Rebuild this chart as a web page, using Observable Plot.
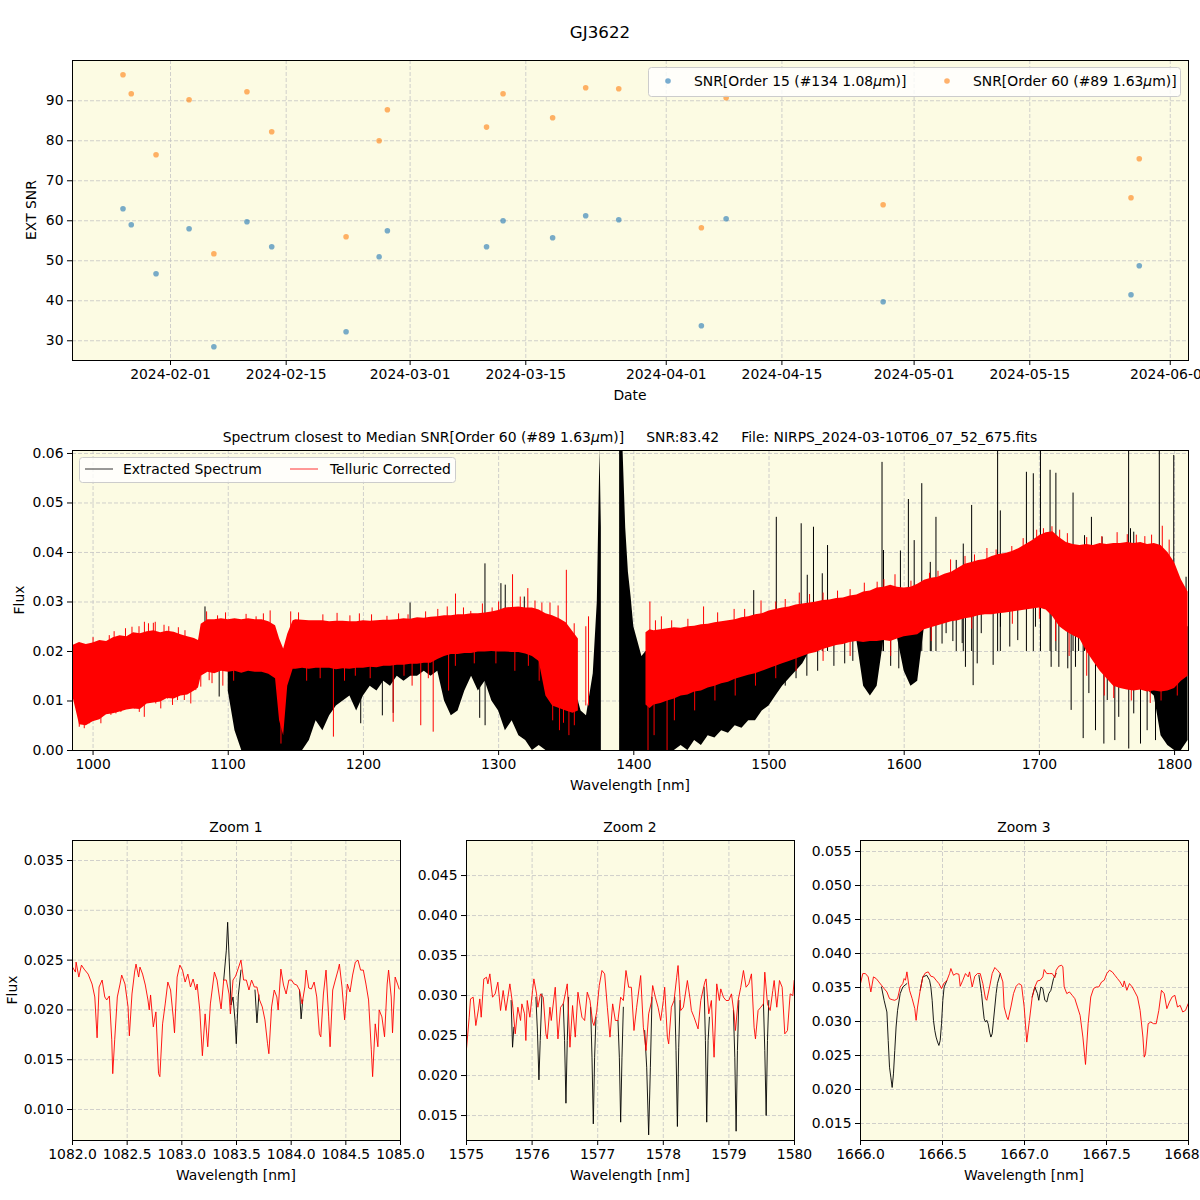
<!DOCTYPE html>
<html><head><meta charset="utf-8">
<script src="https://cdn.jsdelivr.net/npm/d3@7"></script>
<script src="https://cdn.jsdelivr.net/npm/@observablehq/plot@0.6"></script>
<style>
body{margin:0;background:#fff;}
#root{position:relative;width:1200px;height:1200px;overflow:hidden;background:#fff;}
</style></head><body><div id="root"></div>
<script>
// ---------------- DATA ----------------
const obsDates = ["2024-01-26","2024-01-27","2024-01-30","2024-02-03","2024-02-06","2024-02-10","2024-02-13","2024-02-22","2024-02-26","2024-02-27",
  "2024-03-10","2024-03-12","2024-03-18","2024-03-22","2024-03-26","2024-04-05","2024-04-08","2024-04-27","2024-05-27","2024-05-28"];
const snrOrder15 = [63,59,46.75,58,28.5,59.75,53.5,32.25,51,57.5,53.5,60,55.75,61.25,60.25,33.75,60.5,39.75,41.5,48.75];
const snrOrder60 = [96.5,91.75,76.5,90.25,51.75,92.25,82.25,56,80,87.75,83.42,91.75,85.75,93.25,93,58.25,90.75,64,65.75,75.5];
const dateTicks = ["2024-02-01","2024-02-15","2024-03-01","2024-03-15","2024-04-01","2024-04-15","2024-05-01","2024-05-15","2024-06-01"];
const snrTicks = [30,40,50,60,70,80,90];

// Middle panel: spectrum envelopes (flux)
const specWave = [985,990,995,1000,1005,1010,1015,1020,1025,1030,
 1035,1040,1045,1050,1055,1060,1065,1070,1075,1078,
 1080,1085,1090,1095,1100,1105,1110,1115,1120,1125,
 1130,1135,1138,1141,1144,1148,1150,1155,1160,1165,
 1170,1175,1180,1185,1190,1195,1200,1205,1210,1215,
 1220,1225,1230,1235,1240,1245,1250,1255,1260,1265,
 1270,1275,1280,1285,1290,1295,1300,1305,1310,1315,
 1320,1325,1330,1335,1340,1345,1350,1355,1359,1361,
 1365,1370,1373,1375,1376,1376.5,1389.5,1392,1394,1396,
 1398,1400,1403,1406,1409,1412,1415,1420,1425,1430,
 1435,1440,1445,1450,1455,1460,1465,1470,1475,1480,
 1485,1490,1495,1500,1505,1510,1515,1520,1525,1530,
 1535,1540,1545,1550,1555,1560,1565,1570,1575,1580,
 1585,1590,1595,1600,1605,1610,1615,1620,1625,1630,
 1635,1640,1645,1650,1655,1660,1665,1670,1675,1680,
 1685,1690,1695,1700,1705,1710,1715,1720,1725,1730,
 1735,1740,1745,1750,1755,1760,1765,1770,1775,1780,
 1785,1790,1795,1800,1805,1810];
const specRedLo = [.0110,.0052,.0050,.0058,.0062,.0072,.0074,.0078,.0082,.0084,
 .0083,.0094,.0096,.0098,.0105,.0104,.0110,.0112,.0120,.0126,
 .0150,.0158,.0155,.0160,.0158,.0160,.0156,.0160,.0158,.0158,
 .0154,.0145,.0060,.0030,.0130,.0164,.0164,.0166,.0164,.0166,
 .0166,.0166,.0163,.0165,.0164,.0166,.0166,.0168,.0167,.0170,
 .0170,.0172,.0172,.0174,.0174,.0176,.0176,.0184,.0190,.0194,
 .0194,.0196,.0196,.0199,.0199,.0200,.0199,.0199,.0198,.0198,
 .0195,.0190,.0180,.0110,.0090,.0085,.0080,.0075,.0080,null,
 null,null,null,null,null,null,null,null,null,null,
 null,null,null,null,.0092,.0085,.0092,.0095,.0100,.0104,
 .0110,.0112,.0118,.0120,.0126,.0130,.0135,.0138,.0144,.0148,
 .0152,.0155,.0160,.0165,.0170,.0175,.0180,.0185,.0190,.0195,
 .0198,.0204,.0208,.0212,.0214,.0218,.0220,.0218,.0220,.0220,
 .0222,.0220,.0225,.0230,.0232,.0234,.0244,.0248,.0252,.0256,
 .0260,.0262,.0266,.0268,.0272,.0274,.0274,.0276,.0278,.0280,
 .0282,.0284,.0286,.0288,.0284,.0270,.0250,.0240,.0232,.0225,
 .0200,.0180,.0160,.0145,.0130,.0125,.0122,.0120,.0122,.0118,
 .0120,.0118,.0120,.0125,.0140,.0150];
const specRedHi = [.0212,.0218,.0214,.0217,.0222,.0220,.0228,.0232,.0230,.0238,
 .0236,.0240,.0242,.0238,.0241,.0239,.0234,.0230,.0226,.0222,
 .0255,.0264,.0264,.0266,.0264,.0266,.0264,.0266,.0264,.0264,
 .0260,.0252,.0225,.0205,.0235,.0262,.0264,.0263,.0262,.0262,
 .0262,.0260,.0261,.0261,.0260,.0260,.0262,.0261,.0262,.0263,
 .0263,.0264,.0266,.0265,.0268,.0267,.0269,.0270,.0272,.0272,
 .0274,.0274,.0276,.0276,.0278,.0280,.0283,.0288,.0289,.0290,
 .0288,.0288,.0284,.0276,.0272,.0266,.0258,.0240,.0225,null,
 null,null,null,null,null,null,null,null,null,null,
 null,null,null,null,.0238,.0244,.0242,.0244,.0246,.0248,
 .0247,.0250,.0251,.0254,.0255,.0258,.0260,.0262,.0264,.0268,
 .0270,.0274,.0276,.0282,.0285,.0288,.0290,.0294,.0296,.0298,
 .0300,.0303,.0304,.0307,.0308,.0312,.0314,.0320,.0322,.0328,
 .0330,.0334,.0330,.0328,.0330,.0336,.0344,.0348,.0350,.0356,
 .0360,.0368,.0376,.0380,.0384,.0386,.0392,.0396,.0398,.0402,
 .0408,.0416,.0424,.0434,.0440,.0442,.0430,.0420,.0416,.0414,
 .0416,.0414,.0418,.0416,.0418,.0418,.0420,.0418,.0420,.0416,
 .0418,.0414,.0400,.0380,.0345,.0320];
const specBlackLo = [null,null,null,null,null,null,null,null,null,null,
 null,null,null,null,null,null,null,null,null,null,
 null,null,null,null,.0120,.0040,0,0,0,0,
 0,0,0,0,0,0,0,0,.0020,.0060,
 .0040,.0070,.0090,.0100,.0110,.0080,.0110,.0130,.0120,.0140,
 .0130,.0150,.0140,.0150,.0150,.0160,.0150,.0160,.0100,.0070,
 .0080,.0120,.0150,.0120,.0140,.0100,.0080,.0040,.0060,.0030,
 .0020,0,.0010,0,0,0,0,0,0,0,
 0,0,0,0,0,null,0,0,0,0,
 0,0,0,0,0,0,0,0,0,0,
 .0010,0,.0020,.0010,.0030,.0025,.0040,.0035,.0050,.0045,
 .0060,.0060,.0080,.0090,.0110,.0130,.0145,.0160,.0175,.0200,
 .0205,.0210,.0215,.0218,.0220,.0222,.0222,.0130,.0110,.0130,
 .0225,.0222,.0228,.0160,.0130,.0140,.0250,.0252,.0256,.0260,
 .0266,.0266,.0270,.0272,.0276,.0278,.0278,.0280,.0282,.0284,
 .0286,.0288,.0290,.0292,.0288,.0274,.0254,.0244,.0236,.0229,
 .0204,.0184,.0164,.0149,.0134,.0129,.0126,.0124,.0126,.0122,
 .0110,.0030,.0010,0,0,.0020];
const specBlackHi = [null,null,null,null,null,null,null,null,null,null,
 null,null,null,null,null,null,null,null,null,null,
 null,null,null,null,.0200,.0200,.0200,.0200,.0200,.0200,
 .0200,.0190,.0150,.0150,.0180,.0200,.0200,.0200,.0200,.0200,
 .0200,.0200,.0200,.0200,.0200,.0200,.0200,.0200,.0200,.0200,
 .0200,.0210,.0210,.0210,.0210,.0210,.0210,.0220,.0220,.0220,
 .0220,.0230,.0230,.0230,.0230,.0230,.0230,.0230,.0230,.0230,
 .0230,.0230,.0230,.0200,.0180,.0160,.0140,.0120,.0100,.0080,
 .0070,.0155,.0300,.0610,.0450,null,.0610,.0610,.0450,.0360,
 .0310,.0250,.0220,.0190,.0200,.0200,.0200,.0200,.0200,.0200,
 .0200,.0200,.0200,.0200,.0200,.0200,.0200,.0200,.0210,.0210,
 .0210,.0220,.0220,.0230,.0230,.0240,.0240,.0250,.0250,.0250,
 .0250,.0260,.0260,.0260,.0260,.0270,.0270,.0270,.0270,.0280,
 .0280,.0280,.0280,.0280,.0280,.0290,.0290,.0300,.0300,.0300,
 .0310,.0320,.0320,.0330,.0330,.0340,.0340,.0340,.0340,.0350,
 .0350,.0360,.0360,.0370,.0370,.0360,.0340,.0330,.0320,.0310,
 .0310,.0300,.0300,.0300,.0300,.0290,.0290,.0290,.0290,.0290,
 .0290,.0280,.0270,.0260,.0250,.0250];
// isolated spikes / dips
const blackSpikeWave = [1082.8,1234.5,1289.9,1301.7,1304.9,1319.0,1488.7,1505.4,1523.8,1528.3,1532.9,1539.4,1543.3,1583.6,1584.7,1597.2,1603.1,1607.4,1613.0,1619.3,
 1623.5,1638.5,1643.7,1649.9,1669.1,1671.1,1690.4,1695.5,1700.8,1707.9,1712.2,1724.9,1729.0,1733.4,1738.5,1746.4,1766.0,1767.4,1769.8,1788.7,1799.4,1808.5];
const blackSpikeTop = [.0290,.0298,.0377,.0337,.0334,.0310,.0323,.0471,.0458,.0354,.0451,.0357,.0414,.0582,.0404,.0403,.0507,.0424,.0539,.0380,
 .0471,.0384,.0417,.0495,.0620,.0484,.0562,.0559,.0620,.0566,.0560,.0520,.0410,.0434,.0471,.0431,.0620,.0448,.0441,.0620,.0596,.0350];
const blackDipWave = [1093.3,1198,1214,1222,1286,1290,1512,1520,1528,1536,1548,1556,1562,1590,1596,1620,1628,1631,1636,
 1642.9,1645.3,1651.0,1654.0,1657.0,1665.8,1671.2,1678.1,1684.0,1697.1,1708.7,1714.4,1721.0,1723.5,1726.7,1732.4,1736.6,1741.5,
 1747.7,1750.2,1755.8,1758.7,1766.1,1769.8,1774.8,1779.7,1785.9];
const blackDipBottom = [.0108,.0054,.0070,.0075,.0065,.0050,.0130,.0145,.0150,.0160,.0170,.0175,.0180,.0170,.0165,.0200,.0215,.0236,.0220,
 .0216,.0168,.0131,.0175,.0236,.0172,.0249,.0209,.0222,.0249,.0168,.0168,.0165,.0081,.0168,.0024,.0115,.0040,
 .0013,.0101,.0020,.0067,.0003,.0074,.0013,.0040,.0020];
const blackDipTop = [.016,.017,.017,.018,.020,.020,.020,.021,.022,.022,.023,.024,.024,.025,.025,.027,.028,.028,.028,
 .029,.029,.029,.029,.030,.030,.030,.030,.031,.031,.030,.028,.027,.026,.026,.025,.023,.021,
 .019,.018,.016,.016,.015,.015,.015,.015,.015];
const redSpikeWave = [1000,1012,1015.6,1024,1028.8,1034,1038.0,1041,1044.6,1046,1052.5,1056,1063.1,1068,
 1084,1092.1,1098,1113.2,1120.6,1126,1131,1146.2,1152,1170,1180.5,1190,1197,1206,1217.4,1226,1233,1246,1255,1262,1268.1,1274,1279.4,1288,1295.2,1300,1310.3,1316,1321.6,1326.9,1332,1338,1344,1350.1,1355.9,
 1364.5,1366.5,1411.9,1416,1420.4,1428,1440,1451.6,1462,1474.2,1482,1494.1,1505,1512,1522.4,1530,1540,1550.7,1560,1570.5,1580,1585,1593.2,1605,1618.7,1625,1634.3,1645,1652,1661.2,1668,1679.6,1688,1698.0,1703,1709.3,1715,1720.7,1735,1746.2,1757.5,1765,1771.7,1778,1783.0,1790.9,1796,1802.8];
const redSpikeBase = [.018,.018,.018,.018,.018,.018,.018,.018,.018,.018,.018,.018,.018,.018,
 .020,.020,.020,.020,.020,.020,.020,.020,.020,.020,.020,.020,.020,.020,.020,.020,.020,.020,.022,.022,.022,.022,.022,.022,.022,.022,.022,.022,.022,.022,.020,.015,.015,.015,.012,
 .009,.009,.015,.015,.015,.015,.016,.018,.018,.018,.020,.020,.022,.022,.022,.024,.024,.024,.025,.025,.026,.026,.026,.027,.028,.029,.030,.031,.031,.032,.033,.032,.034,.034,.036,.034,.035,.032,.033,.030,.030,.033,.030,.033,.030,.030,.030,.025];
const redSpikeTop = [.0228,.0232,.0240,.0246,.0249,.0250,.0259,.0256,.0257,.0259,.0253,.0250,.0248,.0242,
 .0280,.0272,.0278,.0275,.0270,.0276,.0282,.0280,.0278,.0274,.0277,.0272,.0276,.0274,.0271,.0276,.0274,.0280,.0285,.0290,.0316,.0288,.0281,.0296,.0288,.0300,.0355,.0310,.0327,.0302,.0298,.0298,.0292,.0364,.0256,
 .0250,.0270,.0300,.0262,.0270,.0262,.0265,.0290,.0278,.0285,.0285,.0302,.0300,.0305,.0318,.0315,.0318,.0322,.0325,.0338,.0340,.0345,.0355,.0342,.0358,.0362,.0385,.0392,.0395,.0408,.0405,.0412,.0428,.0445,.0448,.0452,.0445,.0438,.0430,.0432,.0440,.0436,.0435,.0432,.0435,.0453,.0425,.0352];
const redDipWave = [989.8,993.5,997.2,1000.9,1005.8,1010.7,1013.2,1016.9,1020.6,1025.5,1030.5,1034.2,1037.9,1042.8,1046.4,1050.1,1055.1,1058.8,1062.5,1067.5,1072.3,1076,1079.7,1085.9,
 1088,1096,1104,1139,1158,1168,1177.8,1186,1194,1205,1222,1230,1236,1242.4,1248,1251.6,1263,1268,1282,1298,1312,1322,1330,1340,1345,1348,1352,1356,
 1410.5,1415,1424.6,1430,1445,1460,1475,1490,1505,1520,1540,1560,1590,1620,1650,1680,1700,1712,1722,1735,1748,1755,1768,1782,1790,1802];
const redDipBottom = [.0047,.0044,.0054,.0061,.0054,.0081,.0071,.0074,.0077,.0084,.0084,.0077,.0067,.0101,.0094,.0084,.0104,.0091,.0101,.0101,.0094,.0121,.0128,.0141,
 .0135,.0130,.0140,.0013,.0140,.0145,.0027,.0140,.0150,.0145,.0057,.0150,.0130,.0050,.0145,.0037,.0120,.0170,.0175,.0175,.0160,.0170,.0140,.0060,.0040,.0055,.0030,.0050,
 0,.0030,0,.0060,.0080,.0100,.0110,.0130,.0145,.0160,.0180,.0190,.0190,.0220,.0245,.0255,.0265,.0220,.0190,.0150,.0110,.0105,.0100,.0095,.0100,.0110];
const redDipTop = [.010,.010,.010,.010,.010,.011,.011,.011,.011,.012,.012,.012,.012,.013,.013,.013,.014,.014,.014,.014,.015,.015,.016,.018,
 .018,.018,.018,.010,.019,.019,.018,.019,.019,.019,.018,.020,.020,.019,.020,.019,.020,.022,.022,.022,.022,.022,.021,.012,.010,.012,.010,.011,
 .010,.012,.011,.013,.014,.016,.017,.018,.020,.021,.023,.024,.025,.028,.030,.031,.032,.030,.027,.023,.019,.016,.016,.016,.016,.016];
const specXTicks = [1000,1100,1200,1300,1400,1500,1600,1700,1800];
const specYTicks = [0,0.01,0.02,0.03,0.04,0.05,0.06];

// Zoom 1
const z1Wave = [1082.000,1082.027,1082.033,1082.058,1082.082,1082.106,1082.143,1082.179,1082.204,1082.225,
 1082.243,1082.271,1082.295,1082.313,1082.337,1082.359,1082.368,1082.386,1082.410,1082.435,
 1082.450,1082.480,1082.508,1082.520,1082.544,1082.568,1082.581,1082.605,1082.617,1082.641,
 1082.666,1082.690,1082.702,1082.714,1082.739,1082.763,1082.787,1082.799,1082.824,1082.848,
 1082.872,1082.897,1082.921,1082.933,1082.957,1082.982,1083.006,1083.030,1083.055,1083.079,
 1083.103,1083.128,1083.140,1083.164,1083.188,1083.213,1083.237,1083.261,1083.298,1083.322,
 1083.347,1083.359,1083.383,1083.407,1083.432,1083.444,1083.468,1083.492,1083.517,1083.541,
 1083.565,1083.590,1083.614,1083.638,1083.663,1083.687,1083.711,1083.736,1083.760,1083.784,
 1083.796,1083.821,1083.845,1083.869,1083.881,1083.906,1083.930,1083.954,1083.979,1084.003,
 1084.027,1084.052,1084.076,1084.100,1084.125,1084.137,1084.161,1084.185,1084.210,1084.234,
 1084.258,1084.271,1084.295,1084.319,1084.343,1084.356,1084.380,1084.404,1084.429,1084.441,
 1084.465,1084.489,1084.514,1084.538,1084.562,1084.587,1084.611,1084.635,1084.660,1084.684,
 1084.708,1084.733,1084.745,1084.769,1084.793,1084.805,1084.830,1084.854,1084.878,1084.891,
 1084.915,1084.927,1084.951,1084.976,1084.988];
const z1Red = [.0243,.0238,.0248,.0233,.0245,.0241,.0236,.0226,.0213,.0172,
 .0223,.0230,.0213,.0210,.0214,.0170,.0136,.0170,.0213,.0226,
 .0235,.0226,.0203,.0174,.0216,.0238,.0246,.0233,.0243,.0236,
 .0225,.0210,.0200,.0215,.0183,.0198,.0136,.0133,.0186,.0206,
 .0228,.0220,.0193,.0177,.0233,.0245,.0240,.0228,.0236,.0223,
 .0231,.0220,.0226,.0200,.0154,.0196,.0163,.0206,.0238,.0230,
 .0210,.0201,.0230,.0230,.0216,.0196,.0230,.0234,.0242,.0250,
 .0230,.0230,.0220,.0230,.0223,.0223,.0210,.0203,.0190,.0166,
 .0156,.0203,.0220,.0213,.0200,.0241,.0225,.0216,.0230,.0230,
 .0226,.0225,.0220,.0206,.0223,.0240,.0222,.0221,.0228,.0213,
 .0176,.0173,.0216,.0240,.0193,.0163,.0220,.0230,.0240,.0246,
 .0223,.0190,.0226,.0218,.0235,.0248,.0250,.0240,.0240,.0226,
 .0210,.0160,.0133,.0186,.0163,.0200,.0193,.0173,.0226,.0240,
 .0213,.0177,.0233,.0225,.0221];
const z1BlackWave = [1083.383,1083.407,1083.419,1083.432,1083.450,1083.468,1083.486,1083.498,1083.517,1083.541,
 1083.669,1083.687,1083.705, 1084.076,1084.091,1084.106];
const z1BlackFlux = [.0230,.0260,.0288,.0253,.0205,.0213,.0190,.0166,.0215,.0240,
 .0220,.0187,.0215, .0220,.0191,.0210];
const z1BlackSeg = [1,1,1,1,1,1,1,1,1,1, 2,2,2, 3,3,3];
const z1XTicks = [1082.0,1082.5,1083.0,1083.5,1084.0,1084.5,1085.0];
const z1YTicks = [0.010,0.015,0.020,0.025,0.030,0.035];

// Zoom 2
const z2Wave = [1575.000,1575.041,1575.061,1575.102,1575.142,1575.183,1575.203,1575.224,1575.264,1575.305,
 1575.326,1575.356,1575.397,1575.437,1575.478,1575.519,1575.559,1575.600,1575.661,1575.702,
 1575.743,1575.783,1575.824,1575.844,1575.885,1575.905,1575.926,1575.966,1576.007,1576.027,
 1576.068,1576.088,1576.129,1576.170,1576.211,1576.231,1576.272,1576.292,1576.353,1576.394,
 1576.434,1576.475,1576.536,1576.577,1576.617,1576.658,1576.699,1576.760,1576.801,1576.841,
 1576.882,1576.923,1576.943,1576.984,1577.024,1577.065,1577.106,1577.147,1577.187,1577.228,
 1577.269,1577.309,1577.350,1577.391,1577.431,1577.472,1577.513,1577.553,1577.594,1577.655,
 1577.696,1577.737,1577.777,1577.818,1577.838,1577.879,1577.920,1577.960,1578.001,1578.021,
 1578.062,1578.082,1578.123,1578.164,1578.204,1578.225,1578.266,1578.306,1578.367,1578.408,
 1578.428,1578.469,1578.530,1578.571,1578.632,1578.652,1578.693,1578.733,1578.774,1578.815,
 1578.855,1578.876,1578.917,1578.957,1578.998,1579.039,1579.079,1579.100,1579.140,1579.181,
 1579.222,1579.262,1579.303,1579.344,1579.384,1579.405,1579.445,1579.486,1579.527,1579.547,
 1579.588,1579.629,1579.669,1579.690,1579.730,1579.771,1579.812,1579.852,1579.893,1579.934,
 1579.975,1579.995];
const z2Red = [.02333,.02729,.02958,.02979,.02625,.02833,.02958,.02729,.03208,.03229,
 .03146,.03271,.02979,.03021,.03167,.02813,.03063,.02813,.03146,.02896,
 .02521,.02854,.02688,.02896,.02771,.02438,.02938,.02729,.03063,.03208,
 .03021,.02854,.03021,.02979,.02521,.02458,.02854,.02688,.03104,.02458,
 .02854,.02896,.03146,.02354,.02875,.02480,.03042,.02729,.02688,.03042,
 .02938,.02667,.02625,.02792,.03125,.03313,.03271,.02854,.02480,.02896,
 .02688,.02688,.02979,.02938,.03313,.03104,.03104,.02563,.02854,.03250,
 .02604,.02313,.02771,.02917,.03125,.02979,.02854,.02688,.02938,.03104,
 .02480,.02396,.02854,.02938,.03229,.03375,.02813,.02854,.03188,.02958,
 .02813,.02729,.02583,.02938,.03167,.03208,.02771,.02938,.02229,.03146,
 .02938,.03083,.02979,.02938,.02938,.03021,.02771,.02563,.02938,.03104,
 .03313,.03104,.03146,.03271,.02604,.02458,.02813,.02854,.02896,.03292,
 .02896,.02813,.03063,.03188,.02854,.03188,.03104,.02521,.02563,.03021,
 .03000,.03188];
const z2BlackWave = [1575.680,1575.702,1575.722,
 1576.058,1576.083,1576.104,1576.124,1576.150,
 1576.475,1576.495,1576.516,1576.536,1576.557,
 1576.892,1576.913,1576.933,1576.953,1576.974,
 1577.309,1577.330,1577.350,1577.370,1577.391,
 1577.716,1577.747,1577.777,1577.803,1577.828,
 1578.174,1578.194,1578.215,1578.235,1578.255,
 1578.622,1578.642,1578.662,1578.683,1578.703,
 1579.069,1579.090,1579.110,1579.130,1579.151,
 1579.527,1579.547,1579.568,1579.588,1579.608];
const z2BlackFlux = [.02938,.02354,.02604,
 .02979,.02521,.01946,.02438,.03021,
 .02896,.02438,.01654,.02438,.02979,
 .02854,.02229,.01396,.02229,.02729,
 .02688,.02229,.01417,.02229,.02854,
 .02563,.02104,.01258,.02104,.02979,
 .02979,.02313,.01363,.02354,.02938,
 .03104,.02438,.01417,.02438,.02729,
 .02813,.02229,.01304,.02313,.02938,
 .02896,.02313,.01500,.02438,.02938];
const z2BlackSeg = [0,0,0, 1,1,1,1,1, 2,2,2,2,2, 3,3,3,3,3, 4,4,4,4,4, 5,5,5,5,5, 6,6,6,6,6, 7,7,7,7,7, 8,8,8,8,8, 9,9,9,9,9];
const z2XTicks = [1575,1576,1577,1578,1579,1580];
const z2YTicks = [0.015,0.020,0.025,0.030,0.035,0.040,0.045];

// Zoom 3
const z3Wave = [1666.000,1666.014,1666.030,1666.047,1666.063,1666.079,1666.096,1666.112,1666.128,1666.144,
 1666.161,1666.177,1666.193,1666.209,1666.226,1666.242,1666.258,1666.266,1666.274,1666.283,
 1666.299,1666.315,1666.331,1666.339,1666.348,1666.364,1666.380,1666.396,1666.413,1666.429,
 1666.445,1666.461,1666.478,1666.494,1666.510,1666.526,1666.543,1666.551,1666.567,1666.583,
 1666.600,1666.608,1666.624,1666.640,1666.657,1666.665,1666.681,1666.697,1666.713,1666.730,
 1666.746,1666.762,1666.770,1666.787,1666.803,1666.819,1666.835,1666.852,1666.868,1666.876,
 1666.892,1666.900,1666.917,1666.933,1666.949,1666.965,1666.982,1666.998,1667.014,1667.030,
 1667.047,1667.063,1667.079,1667.096,1667.112,1667.120,1667.136,1667.152,1667.169,1667.185,
 1667.193,1667.209,1667.226,1667.234,1667.242,1667.258,1667.274,1667.291,1667.307,1667.323,
 1667.339,1667.356,1667.372,1667.388,1667.404,1667.421,1667.437,1667.453,1667.470,1667.486,
 1667.502,1667.518,1667.535,1667.551,1667.567,1667.583,1667.600,1667.608,1667.624,1667.640,
 1667.657,1667.673,1667.689,1667.705,1667.722,1667.730,1667.738,1667.754,1667.770,1667.787,
 1667.803,1667.819,1667.835,1667.852,1667.868,1667.884,1667.900,1667.917,1667.933,1667.949,
 1667.965,1667.982,1667.998];
const z3Red = [.03558,.03705,.03705,.03656,.03435,.03656,.03631,.03582,.03533,.03484,
 .03435,.03336,.03321,.03312,.03336,.03508,.03558,.03631,.03607,.03730,
 .03459,.03336,.03189,.03017,.03213,.03459,.03656,.03715,.03730,.03666,
 .03656,.03607,.03558,.03484,.03567,.03597,.03705,.03779,.03680,.03705,
 .03695,.03518,.03607,.03705,.03656,.03730,.03508,.03666,.03705,.03705,
 .03558,.03336,.03312,.03508,.03705,.03794,.03754,.03705,.03582,.03213,
 .03066,.03027,.03213,.03410,.03518,.03558,.03533,.03213,.02697,.03017,
 .03361,.03508,.03597,.03607,.03656,.03764,.03705,.03705,.03705,.03646,
 .03754,.03813,.03828,.03803,.03508,.03410,.03435,.03385,.03336,.03213,
 .03090,.02771,.02368,.02968,.03361,.03484,.03508,.03508,.03582,.03607,
 .03705,.03754,.03730,.03680,.03631,.03582,.03508,.03597,.03459,.03558,
 .03508,.03435,.03361,.03164,.02771,.02476,.02525,.02968,.02992,.02968,
 .02968,.03164,.03459,.03410,.03189,.03287,.03361,.03385,.03213,.03238,
 .03140,.03164,.03262];
const z3BlackWave = [1666.128,1666.144,1666.161,1666.169,1666.177,1666.185,1666.193,1666.201,1666.209,1666.217,1666.226,1666.242,1666.258,1666.283,
 1666.364,1666.380,1666.404,1666.421,1666.429,1666.437,1666.445,1666.453,1666.461,1666.470,1666.478,1666.486,1666.494,1666.502,1666.510,1666.526,
 1666.722,1666.738,1666.746,1666.754,1666.762,1666.770,1666.778,1666.787,1666.795,1666.803,1666.811,1666.819,1666.827,1666.835,1666.852,
 1667.047,1667.063,1667.079,1667.087,1667.100,1667.112,1667.124,1667.136,1667.148,1667.161,1667.177,1667.193];
const z3BlackFlux = [.03508,.03312,.03140,.02722,.02328,.02181,.02030,.02230,.02574,.02919,.03164,.03410,.03508,.03558,
 .03459,.03656,.03680,.03607,.03508,.03312,.03017,.02869,.02771,.02697,.02648,.02722,.02968,.03312,.03508,.03597,
 .03680,.03410,.03213,.03041,.02992,.03017,.02968,.02845,.02771,.02820,.03017,.03213,.03410,.03558,.03705,
 .03361,.03508,.03410,.03312,.03508,.03484,.03312,.03287,.03410,.03459,.03631,.03705];
const z3BlackSeg = [1,1,1,1,1,1,1,1,1,1,1,1,1,1,
 2,2,2,2,2,2,2,2,2,2,2,2,2,2,2,2,
 3,3,3,3,3,3,3,3,3,3,3,3,3,3,3,
 4,4,4,4,4,4,4,4,4,4,4,4];
const z3XTicks = [1666.0,1666.5,1667.0,1667.5,1668.0];
const z3YTicks = [0.015,0.020,0.025,0.030,0.035,0.040,0.045,0.050,0.055];

// ---------------- RENDER ----------------
const FONT = "DejaVu Sans";
const BG = "#fcfbe3";
const GRID = "#c4c4c4";
const root = document.getElementById("root");
function place(node, left, top){ node.style.position="absolute"; node.style.left=left+"px"; node.style.top=top+"px"; root.appendChild(node); }
const baseStyle = {fontFamily: FONT, fontSize: "13.9px", background: "transparent", overflow: "visible", color: "#000"};
function grid(xt, yt){
  return [
    Plot.ruleX(xt, {stroke: GRID, strokeWidth: 0.8, strokeDasharray: "4,2"}),
    Plot.ruleY(yt, {stroke: GRID, strokeWidth: 0.8, strokeDasharray: "4,2"})
  ];
}
const axisOpts = {tickSize: 5, tickPadding: 4, label: null};

// Panel 1
const snrRows = obsDates.map((d,i)=>({date: new Date(d+"T06:00:00Z"), o15: snrOrder15[i], o60: snrOrder60[i]}));
const dateTickDates = dateTicks.map(d=>new Date(d+"T00:00:00Z"));
const p1 = Plot.plot({
  width: 1200, height: 420, marginLeft: 72, marginRight: 12, marginTop: 60, marginBottom: 60,
  style: baseStyle,
  x: {type: "utc", domain: [new Date("2024-01-20T03:20:00Z"), new Date("2024-06-03T05:00:00Z")], ticks: dateTickDates, tickFormat: d3.utcFormat("%Y-%m-%d"), ...axisOpts},
  y: {domain: [25.07, 100.07], ticks: snrTicks, tickFormat: d=>String(d), ...axisOpts},
  marks: [
    Plot.frame({fill: BG, stroke: "none"}),
    ...grid(dateTickDates, snrTicks),
    Plot.dot(snrRows, {x: "date", y: "o15", r: 2.8, fill: "#1f77b4", fillOpacity: 0.6}),
    Plot.dot(snrRows, {x: "date", y: "o60", r: 2.8, fill: "#ff7f0e", fillOpacity: 0.6}),
    Plot.frame({stroke: "#000", strokeWidth: 1})
  ]
});
place(p1, 0, 0);

// Panel 2: spectrum
const specRows = specWave.map((w,i)=>({w, rLo: specRedLo[i], rHi: specRedHi[i], bLo: specBlackLo[i], bHi: specBlackHi[i]}));
const bSpikes = blackSpikeWave.map((w,i)=>({w, top: blackSpikeTop[i]}));
const bDips = blackDipWave.map((w,i)=>({w, lo: blackDipBottom[i], hi: blackDipTop[i]}));
const rSpikes = redSpikeWave.map((w,i)=>({w, lo: redSpikeBase[i], hi: redSpikeTop[i]}));
const rDips = redDipWave.map((w,i)=>({w, lo: redDipBottom[i], hi: redDipTop[i]}));
const p2 = Plot.plot({
  width: 1200, height: 420, marginLeft: 72, marginRight: 12, marginTop: 50, marginBottom: 70,
  style: baseStyle,
  x: {domain: [984.8, 1810.3], ticks: specXTicks, tickFormat: d=>String(d), ...axisOpts},
  y: {domain: [0, 0.0606], ticks: specYTicks, tickFormat: d3.format(".2f"), ...axisOpts},
  marks: [
    Plot.frame({fill: BG, stroke: "none"}),
    ...grid(specXTicks, specYTicks),
    Plot.areaY(specRows, {x: "w", y1: "bLo", y2: "bHi", fill: "#000", clip: true}),
    Plot.ruleX(bSpikes, {x: "w", y1: 0.02, y2: "top", stroke: "#000", strokeWidth: 1, clip: true}),
    Plot.ruleX(bDips, {x: "w", y1: "lo", y2: "hi", stroke: "#000", strokeWidth: 1, clip: true}),
    Plot.areaY(specRows, {x: "w", y1: "rLo", y2: "rHi", fill: "#ff0000", clip: true}),
    Plot.ruleX(rSpikes, {x: "w", y1: "lo", y2: "hi", stroke: "#ff0000", strokeWidth: 1, clip: true}),
    Plot.ruleX(rDips, {x: "w", y1: "lo", y2: "hi", stroke: "#ff0000", strokeWidth: 1, clip: true}),
    Plot.frame({stroke: "#000", strokeWidth: 1})
  ]
});
place(p2, 0, 400);

// Zoom panels
function zoomPlot(opts){
  const red = opts.wave.map((w,i)=>({w, f: opts.red[i]}));
  const blk = opts.bWave.map((w,i)=>({w, f: opts.bFlux[i], s: opts.bSeg[i]}));
  return Plot.plot({
    width: opts.width, height: 400, marginLeft: opts.ml, marginRight: opts.mr, marginTop: 40, marginBottom: 60,
    style: baseStyle,
    x: {domain: opts.xd, ticks: opts.xt, tickFormat: opts.xf, ...axisOpts},
    y: {domain: opts.yd, ticks: opts.yt, tickFormat: d3.format(".3f"), ...axisOpts},
    marks: [
      Plot.frame({fill: BG, stroke: "none"}),
      ...grid(opts.xt, opts.yt),
      Plot.line(blk, {x: "w", y: "f", z: "s", stroke: "#000", strokeWidth: 0.9, clip: true}),
      Plot.line(red, {x: "w", y: "f", stroke: "#ff0000", strokeWidth: 0.9, clip: true}),
      Plot.frame({stroke: "#000", strokeWidth: 1})
    ]
  });
}
place(zoomPlot({width: 410, ml: 72, mr: 10, xd: [1082, 1085], xt: z1XTicks, xf: d3.format(".1f"), yd: [0.00689, 0.03701], yt: z1YTicks,
  wave: z1Wave, red: z1Red, bWave: z1BlackWave, bFlux: z1BlackFlux, bSeg: z1BlackSeg}), 0, 800);
place(zoomPlot({width: 400, ml: 66, mr: 6, xd: [1575, 1580], xt: z2XTicks, xf: d=>String(d), yd: [0.01188, 0.04938], yt: z2YTicks,
  wave: z2Wave, red: z2Red, bWave: z2BlackWave, bFlux: z2BlackFlux, bSeg: z2BlackSeg}), 400, 800);
place(zoomPlot({width: 410, ml: 70, mr: 12, xd: [1666, 1668], xt: z3XTicks, xf: d3.format(".1f"), yd: [0.0125, 0.05662], yt: z3YTicks,
  wave: z3Wave, red: z3Red, bWave: z3BlackWave, bFlux: z3BlackFlux, bSeg: z3BlackSeg}), 790, 800);

// Overlay: titles, axis labels, legends
const ov = d3.create("svg").attr("width", 1200).attr("height", 1200)
  .style("position", "absolute").style("left", "0px").style("top", "0px")
  .style("font-family", FONT).style("pointer-events", "none");
function label(x, y, s, size, rot){
  const t = ov.append("text").attr("x", x).attr("y", y).attr("text-anchor", "middle")
    .attr("font-size", size).attr("fill", "#000").style("white-space", "pre").text(s);
  if (rot) t.attr("transform", `rotate(-90 ${x} ${y})`);
  return t;
}
function muText(x, y, anchor, size, pre, post){
  const t = ov.append("text").attr("x", x).attr("y", y).attr("text-anchor", anchor)
    .attr("font-size", size).attr("fill", "#000").style("white-space", "pre");
  t.append("tspan").text(pre);
  t.append("tspan").attr("font-style", "italic").text("\u03bc");
  t.append("tspan").text(post);
  return t;
}
label(600, 38, "GJ3622", 16.7);
label(630, 400, "Date", 13.9);
label(36, 210, "EXT SNR", 13.9, true);
muText(630, 442, "middle", 13.9, "Spectrum closest to Median SNR[Order 60 (#89 1.63", "m)]     SNR:83.42     File: NIRPS_2024-03-10T06_07_52_675.fits");
label(630, 790, "Wavelength [nm]", 13.9);
label(24, 600, "Flux", 13.9, true);
label(236, 832, "Zoom 1", 13.9);
label(630, 832, "Zoom 2", 13.9);
label(1024, 832, "Zoom 3", 13.9);
label(236, 1180, "Wavelength [nm]", 13.9);
label(630, 1180, "Wavelength [nm]", 13.9);
label(1024, 1180, "Wavelength [nm]", 13.9);
label(17, 990, "Flux", 13.9, true);

// legend top
ov.append("rect").attr("x", 648.5).attr("y", 67.5).attr("width", 532).attr("height", 29).attr("rx", 3)
  .attr("fill", "#fff").attr("fill-opacity", 0.8).attr("stroke", "#cccccc");
ov.append("circle").attr("cx", 668).attr("cy", 81).attr("r", 2.8).attr("fill", "#1f77b4").attr("fill-opacity", 0.6);
muText(694, 86, "start", 13.9, "SNR[Order 15 (#134 1.08", "m)]");
ov.append("circle").attr("cx", 947).attr("cy", 81).attr("r", 2.8).attr("fill", "#ff7f0e").attr("fill-opacity", 0.6);
muText(973, 86, "start", 13.9, "SNR[Order 60 (#89 1.63", "m)]");

// legend middle
ov.append("rect").attr("x", 79.5).attr("y", 457.5).attr("width", 376).attr("height", 25).attr("rx", 3)
  .attr("fill", "#fff").attr("fill-opacity", 0.8).attr("stroke", "#cccccc");
ov.append("line").attr("x1", 85).attr("x2", 113).attr("y1", 469).attr("y2", 469).attr("stroke", "#000").attr("stroke-width", 0.8);
ov.append("text").attr("x", 123).attr("y", 474).attr("font-size", 13.9).text("Extracted Spectrum");
ov.append("line").attr("x1", 290).attr("x2", 318).attr("y1", 469).attr("y2", 469).attr("stroke", "#ff0000").attr("stroke-width", 0.8);
ov.append("text").attr("x", 330).attr("y", 474).attr("font-size", 13.9).text("Telluric Corrected");

root.appendChild(ov.node());
</script></body></html>
